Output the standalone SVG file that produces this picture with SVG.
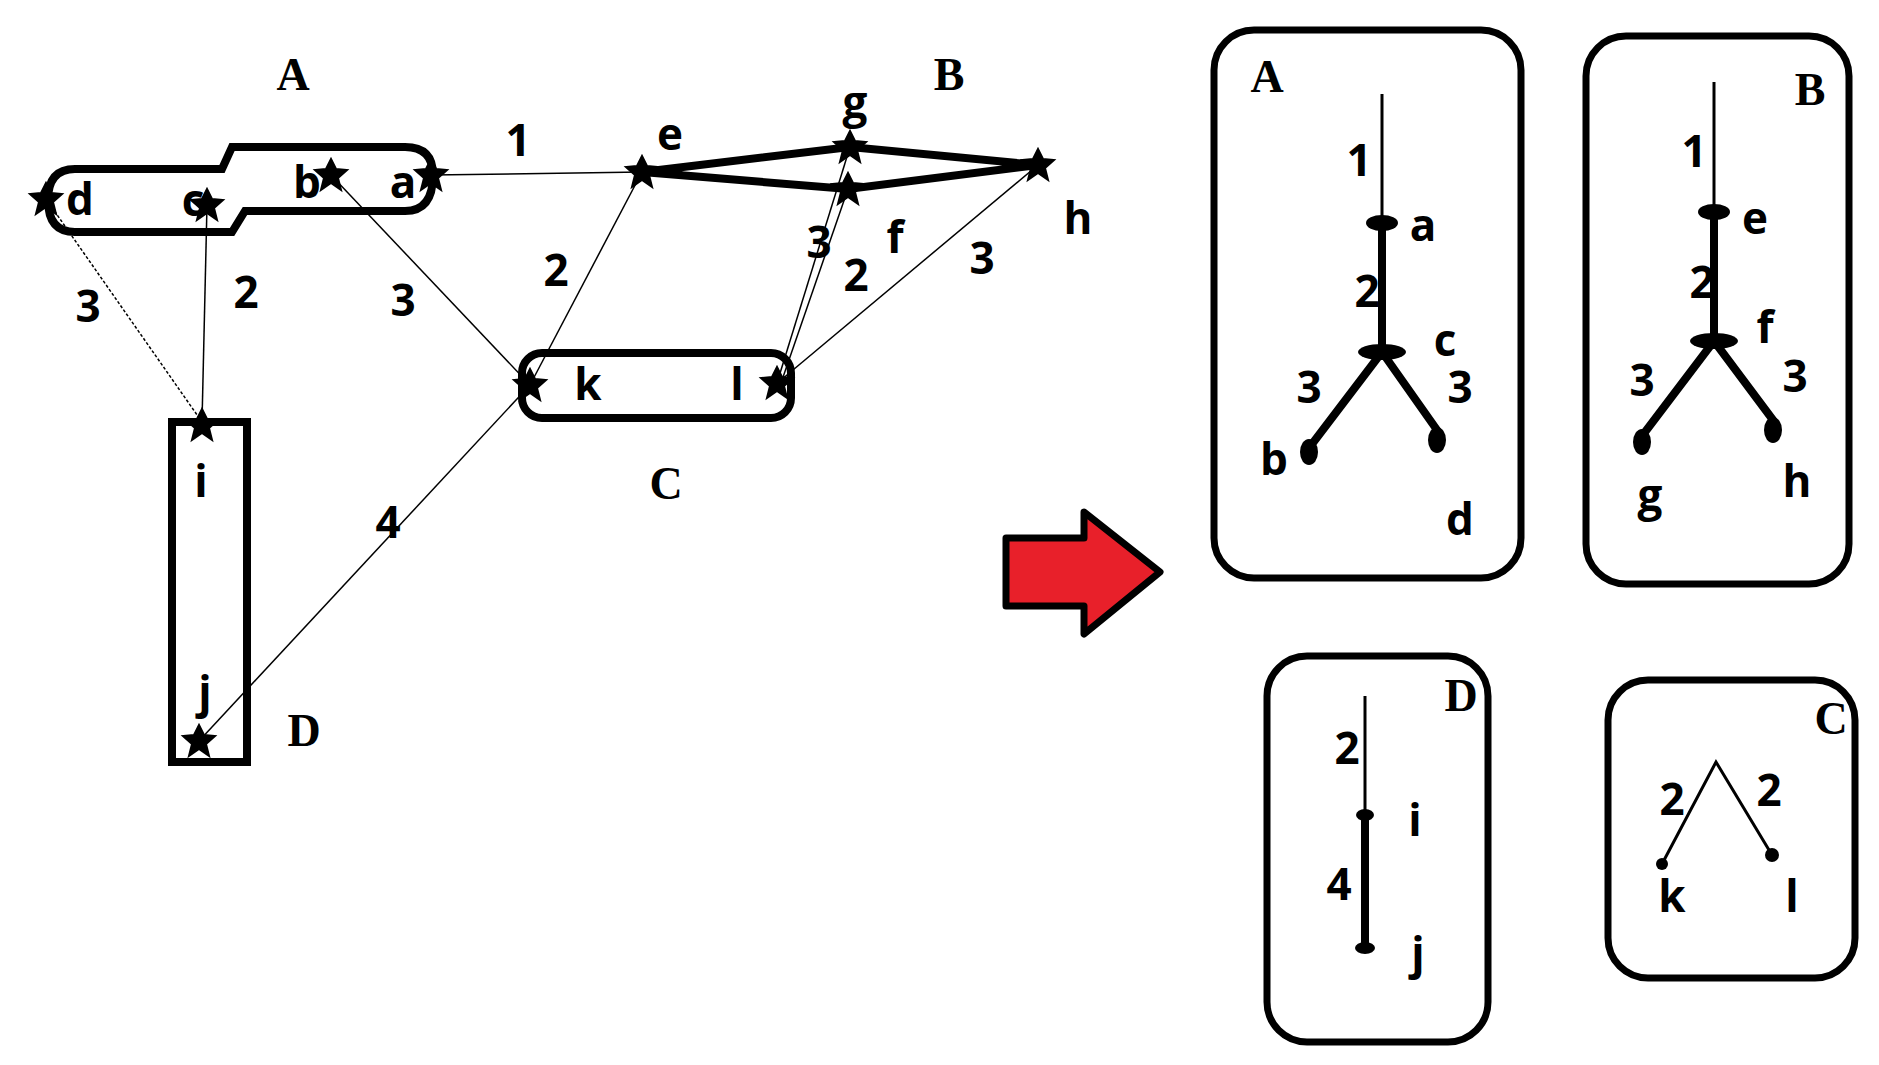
<svg xmlns="http://www.w3.org/2000/svg" width="1879" height="1065" viewBox="0 0 1879 1065">
<defs>
<style>
.t{font-family:"Open Sans","Liberation Sans",sans-serif;font-weight:bold;font-size:44px;fill:#000;text-anchor:middle}
.s{font-family:"Liberation Serif",serif;font-weight:bold;font-size:46px;fill:#000;text-anchor:middle}
.thin{stroke:#000;stroke-width:1.5;fill:none}
.thick{stroke:#000;stroke-width:8;fill:none}
.hull{stroke:#000;stroke-width:8;fill:none}
.box{stroke:#000;stroke-width:7;fill:#fff}
.tl{stroke:#000;stroke-width:3;fill:none}
.tk{stroke:#000;stroke-width:8;fill:none;stroke-linecap:round}
</style>
<path id="star" d="M0,-16 L5,-6 L16,-5 L7,3 L10,15 L0,8 L-10,15 L-7,3 L-16,-5 L-5,-6 Z" fill="#000" stroke="#000" stroke-width="2"/>
</defs>
<rect width="1879" height="1065" fill="#fff"/>
<g id="connectors">
<line class="thin" x1="431" y1="175" x2="642" y2="172"/>
<line class="thin" x1="331" y1="175" x2="530" y2="385"/>
<line class="thin" x1="642" y1="172" x2="530" y2="385"/>
<line class="thin" x1="46" y1="199" x2="202" y2="422" stroke-dasharray="3,2"/>
<line class="thin" x1="207" y1="205" x2="202" y2="422"/>
<line class="thin" x1="530" y1="385" x2="199" y2="741"/>
<line class="thin" x1="850" y1="147" x2="777" y2="383"/>
<line class="thin" x1="848" y1="189" x2="781" y2="383"/>
<line class="thin" x1="1038" y1="165" x2="781" y2="380"/>
<polygon class="thick" points="642,172 850,147 1038,165 848,189"/>
</g>
<g id="groupA"><path class="hull" d="M75,169 L222,169 L232,147 L405,147 Q433,147 433,175 Q433,211 405,211 L245,211 L232,232 L75,232 Q48,232 48,200 Q48,169 75,169 Z"/>
<text class="s" x="293" y="90">A</text></g>
<g id="groupB"><text class="s" x="949" y="90">B</text></g>
<g id="groupC"><rect class="hull" x="522" y="353" width="269" height="65" rx="20"/><text class="s" x="666" y="499">C</text></g>
<g id="groupD"><rect class="hull" x="172" y="422" width="75" height="340"/><text class="s" x="304" y="746">D</text></g>
<g id="nodes">
<use href="#star" x="46" y="199"/><use href="#star" x="207" y="205"/><use href="#star" x="331" y="175"/><use href="#star" x="431" y="175"/>
<use href="#star" x="642" y="172"/><use href="#star" x="850" y="147"/><use href="#star" x="848" y="189"/><use href="#star" x="1038" y="165"/>
<use href="#star" x="530" y="385"/><use href="#star" x="777" y="383"/><use href="#star" x="202" y="425"/><use href="#star" x="199" y="741"/>
</g>
<g id="labels">
<text class="t" x="80" y="215">d</text><text class="t" x="193" y="216">c</text><text class="t" x="307" y="198">b</text><text class="t" x="403" y="198">a</text>
<text class="t" x="670" y="150">e</text><text class="t" x="855" y="118">g</text><text class="t" x="1078" y="234">h</text><text class="t" x="895" y="253">f</text>
<text class="t" x="588" y="400">k</text><text class="t" x="737" y="400">l</text><text class="t" x="201" y="497">i</text><text class="t" x="205" y="708">j</text>
<text class="t" x="518" y="156">1</text><text class="t" x="819" y="258">3</text><text class="t" x="856" y="291">2</text><text class="t" x="982" y="274">3</text>
<text class="t" x="556" y="286">2</text><text class="t" x="403" y="316">3</text><text class="t" x="246" y="308">2</text><text class="t" x="88" y="322">3</text><text class="t" x="388" y="538">4</text>
</g>
<g id="arrow"><polygon points="1006,538 1084,538 1084,512 1160,572 1084,634 1084,606 1006,606" fill="#e8202a" stroke="#000" stroke-width="7" stroke-linejoin="round"/></g>
<g transform="translate(-6,0)">
<g id="treeA">
<rect class="box" x="1220" y="30" width="307" height="548" rx="40"/>
<text class="s" x="1273" y="92">A</text>
<line class="tl" x1="1388" y1="94" x2="1388" y2="223"/>
<line class="tk" x1="1388" y1="223" x2="1388" y2="352"/>
<line class="tk" x1="1388" y1="352" x2="1315" y2="448"/>
<line class="tk" x1="1388" y1="352" x2="1443" y2="430"/>
<ellipse cx="1388" cy="223" rx="16" ry="8"/><ellipse cx="1388" cy="352" rx="24" ry="8"/>
<ellipse cx="1315" cy="452" rx="9" ry="13"/><ellipse cx="1443" cy="440" rx="9" ry="13"/>
<text class="t" x="1365" y="176">1</text><text class="t" x="1429" y="241">a</text><text class="t" x="1373" y="307">2</text><text class="t" x="1451" y="356">c</text>
<text class="t" x="1315" y="403">3</text><text class="t" x="1466" y="403">3</text><text class="t" x="1280" y="475">b</text><text class="t" x="1466" y="535">d</text>
</g>
<g id="treeB">
<rect class="box" x="1592" y="36" width="263" height="548" rx="40"/>
<text class="s" x="1816" y="105">B</text>
<line class="tl" x1="1720" y1="82" x2="1720" y2="212"/>
<line class="tk" x1="1720" y1="212" x2="1720" y2="341"/>
<line class="tk" x1="1720" y1="341" x2="1648" y2="436"/>
<line class="tk" x1="1720" y1="341" x2="1779" y2="420"/>
<ellipse cx="1720" cy="212" rx="16" ry="8"/><ellipse cx="1720" cy="341" rx="24" ry="8"/>
<ellipse cx="1648" cy="442" rx="9" ry="13"/><ellipse cx="1779" cy="430" rx="9" ry="13"/>
<text class="t" x="1700" y="167">1</text><text class="t" x="1761" y="234">e</text><text class="t" x="1708" y="298">2</text><text class="t" x="1771" y="343">f</text>
<text class="t" x="1648" y="396">3</text><text class="t" x="1801" y="392">3</text><text class="t" x="1656" y="511">g</text><text class="t" x="1803" y="497">h</text>
</g>
<g id="treeD">
<rect class="box" x="1273" y="656" width="221" height="386" rx="40"/>
<text class="s" x="1467" y="711">D</text>
<line class="tl" x1="1371" y1="696" x2="1371" y2="815"/>
<line class="tk" x1="1371" y1="815" x2="1371" y2="948"/>
<ellipse cx="1371" cy="815" rx="9" ry="6"/><ellipse cx="1371" cy="948" rx="10" ry="6"/>
<text class="t" x="1353" y="764">2</text><text class="t" x="1421" y="836">i</text><text class="t" x="1345" y="900">4</text><text class="t" x="1424" y="969">j</text>
</g>
<g id="treeC">
<rect class="box" x="1614" y="680" width="247" height="298" rx="40" stroke-width="5"/>
<text class="s" x="1837" y="734">C</text>
<polyline class="tl" points="1668,864 1722,762 1778,855" stroke-width="4"/>
<circle cx="1668" cy="864" r="6"/><circle cx="1778" cy="855" r="7"/>
<text class="t" x="1678" y="815">2</text><text class="t" x="1775" y="806">2</text><text class="t" x="1678" y="912">k</text><text class="t" x="1798" y="912">l</text>
</g>
</g>
</svg>
